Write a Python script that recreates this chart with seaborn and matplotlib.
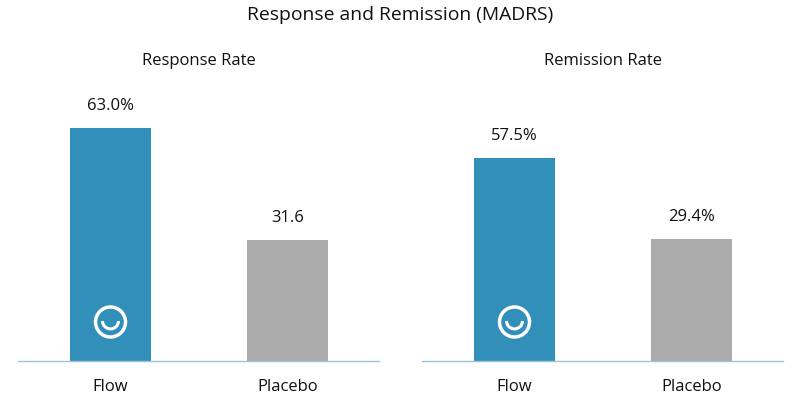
import matplotlib
matplotlib.use("Agg")
import matplotlib.pyplot as plt
from matplotlib.patches import Arc, Ellipse
import pandas as pd
import seaborn as sns

groups = ["Flow", "Placebo"]
# bar heights as drawn in the picture, they do not quite follow the printed labels
response = [63.0, 32.7]
remission = [54.9, 33.0]
response_labels = ["63.0%", "31.6"]
remission_labels = ["57.5%", "29.4%"]

sns.set_theme(style="white")
plt.rcParams["font.family"] = ["Open Sans", "DejaVu Sans"]

colors = ["#328fba", "#ababab"]
TEXT = "#111111"
PX_X = 177.0  # pixels per category
PX_Y = 3.7  # pixels per percent


def draw_smiley(ax):
    # drawn in data units on the Flow bar
    cy = 39 / PX_Y
    ax.add_patch(Ellipse((0, cy), 30 / PX_X, 30 / PX_Y, fill=False, ec="white", lw=2.5, zorder=5))
    ax.add_patch(Arc((0, cy + 0.3), 16 / PX_X, 16 / PX_Y, theta1=225, theta2=315,
                     ec="white", lw=2.2, zorder=5))


def draw_panel(ax, values, labels, title):
    df = pd.DataFrame({"group": groups, "value": values})
    sns.barplot(data=df, x="group", y="value", hue="group", palette=colors,
                width=81 / PX_X, legend=False, ax=ax, saturation=1, linewidth=0)
    ax.set_xlim(-0.5226, 1.517)
    ax.set_ylim(0, 290 / PX_Y)
    ax.set_yticks([])
    ax.set_xlabel(""); ax.set_ylabel("")
    ax.set_title(title, fontsize=12, color=TEXT, pad=4.3)
    ax.tick_params(axis="x", length=0, labelsize=12, labelcolor=TEXT, pad=13)
    sns.despine(ax=ax, left=True)
    ax.spines["bottom"].set_color("#9cc6d6")
    ax.spines["bottom"].set_linewidth(1)
    for i, v in enumerate(values):
        ax.annotate(labels[i], (i, v), xytext=(0, 10), textcoords="offset points",
                    ha="center", va="bottom", fontsize=12, color=TEXT)
    draw_smiley(ax)


fig, axes = plt.subplots(1, 2, figsize=(8, 4), dpi=100)
axes[0].set_position([18 / 800, 39 / 400, 361 / 800, 290 / 400])
axes[1].set_position([422 / 800, 39 / 400, 361 / 800, 290 / 400])
draw_panel(axes[0], response, response_labels, "Response Rate")
draw_panel(axes[1], remission, remission_labels, "Remission Rate")
fig.text(0.5, 0.962, "Response and Remission (MADRS)", ha="center", va="center", fontsize=13.9, color=TEXT)
fig.savefig("out.png", dpi=100)
